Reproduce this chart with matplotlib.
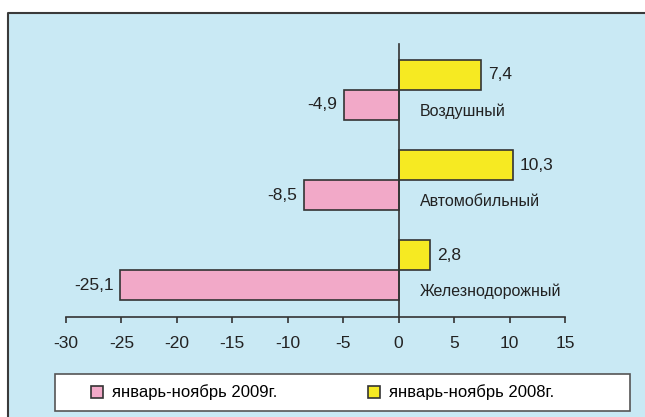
import matplotlib.pyplot as plt
from matplotlib.patches import Rectangle
from matplotlib.lines import Line2D

plt.rcParams['font.family'] = ['Liberation Sans', 'DejaVu Sans']

# Данные
categories = ['Воздушный', 'Автомобильный', 'Железнодорожный']
values_2008 = [7.4, 10.3, 2.8]
values_2009 = [-4.9, -8.5, -25.1]
label_2008 = 'январь-ноябрь 2008г.'
label_2009 = 'январь-ноябрь 2009г.'
xticks = [-30, -25, -20, -15, -10, -5, 0, 5, 10, 15]

c_bg = '#c9e9f4'
c_pink = '#f2a9c8'
c_yellow = '#f6ea22'
c_edge = '#333333'

W, H = 645, 417
fig = plt.figure(figsize=(W / 100, H / 100), dpi=100, facecolor='white')

# Фон: заливка без контура + верхняя и левая линии рамки
x0, y1 = 8 / W, 1 - 12.5 / H
fig.add_artist(Rectangle((x0, 0), 1 - x0, y1, transform=fig.transFigure,
                         facecolor=c_bg, edgecolor='none', zorder=-3))
fig.add_artist(Line2D([x0, x0, 1], [0, y1, y1], transform=fig.transFigure,
                      color='#3a3a3a', linewidth=1.5, zorder=-2))

ax = fig.add_axes([66 / W, 1 - 317 / H, 499 / W, 273 / H])
ax.patch.set_alpha(0)

h = 1 / 3
y = list(range(len(categories)))
ax.barh([i - h / 2 for i in y], values_2008, height=h, color=c_yellow,
        edgecolor=c_edge, linewidth=1.2, zorder=2)
ax.barh([i + h / 2 for i in y], values_2009, height=h, color=c_pink,
        edgecolor=c_edge, linewidth=1.2, zorder=2)

def fmt(v):
    return f'{v:.1f}'.replace('.', ',')

for i, v in enumerate(values_2008):
    ax.annotate(fmt(v), (v, i - h / 2), xytext=(5, 0), textcoords='offset points',
                ha='left', va='center', fontsize=12.5, color='#222222')
for i, v in enumerate(values_2009):
    ax.annotate(fmt(v), (v, i + h / 2), xytext=(-5, 0), textcoords='offset points',
                ha='right', va='center', fontsize=12.5, color='#222222')
for i, name in enumerate(categories):
    ax.annotate(name, (0, i + h / 2 + 0.07), xytext=(15, 0), textcoords='offset points',
                ha='left', va='center', fontsize=11.5, color='#222222')

ax.set_xlim(-30, 15)
ax.set_ylim(2.52, -0.51)
ax.set_xticks(xticks)
ax.set_xticklabels([str(t) for t in xticks])
ax.set_yticks([])
for s in ['top', 'right']:
    ax.spines[s].set_visible(False)
ax.spines['left'].set_position(('data', 0))
ax.spines['left'].set_zorder(3)
for s in ['left', 'bottom']:
    ax.spines[s].set_color(c_edge)
    ax.spines[s].set_linewidth(1.2)
ax.tick_params(axis='x', direction='out', length=4, width=1.2, color=c_edge,
               labelsize=12.5, labelcolor='#222222', pad=10)

# Легенда
fig.add_artist(Rectangle((55 / W, 1 - 411 / H), 575 / W, 37 / H,
                         transform=fig.transFigure, facecolor='white',
                         edgecolor='#555555', linewidth=1.2, zorder=-1))
handles = [Line2D([], [], linestyle='none', marker='s', markersize=8,
                  markerfacecolor=c_pink, markeredgecolor=c_edge, markeredgewidth=1.2),
           Line2D([], [], linestyle='none', marker='s', markersize=8,
                  markerfacecolor=c_yellow, markeredgecolor=c_edge, markeredgewidth=1.2)]
fig.legend(handles, [label_2009, label_2008], loc='center', ncol=2,
           bbox_to_anchor=(322 / W, 1 - 392.5 / H), frameon=False,
           fontsize=12, handlelength=0.8, handletextpad=0.5, columnspacing=5.4)

fig.savefig('out.png', dpi=100, facecolor='white')
